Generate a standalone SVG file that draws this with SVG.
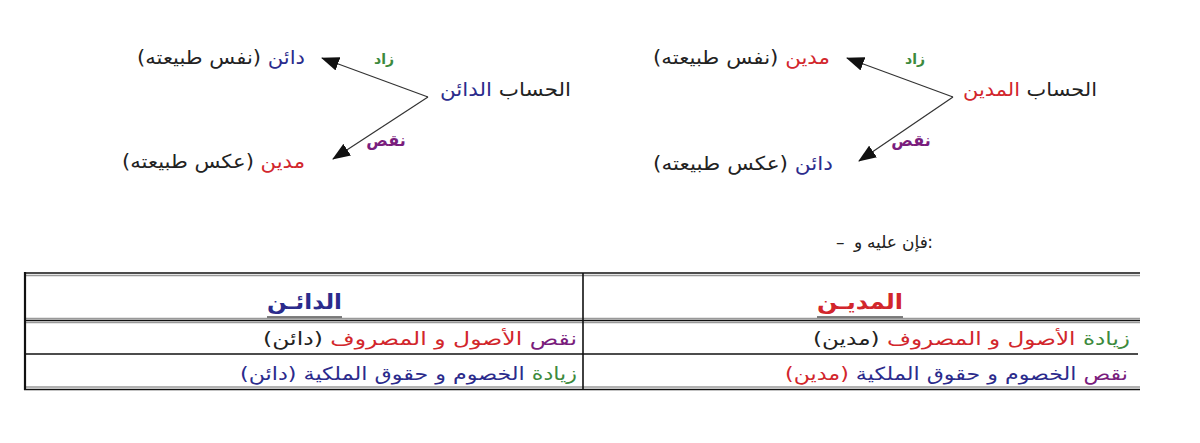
<svg xmlns="http://www.w3.org/2000/svg" width="1200" height="443" viewBox="0 0 1200 443">
<style>
text{font-family:"DejaVu Sans","Noto Sans",sans-serif;fill:#222}
.rtl{direction:rtl;text-anchor:start}
.lbl{font-size:19px}
.intro{font-size:17px}
.small{font-size:14px;font-weight:bold}
.nq{font-size:16px;font-weight:bold}
.red{fill:#d2262c}
.blue{fill:#2b2b8c}
.green{fill:#3d8a3d}
.purple{fill:#7a1d7d}
.hdr{font-size:21px;font-weight:bold}
.row{font-size:18px}
.conn{stroke:#333;stroke-width:1.2;fill:none}
.tl{stroke:#111;stroke-width:1.6}
.tg{stroke:#999;stroke-width:1.6}
</style>
<defs>
<marker id="ah" markerUnits="userSpaceOnUse" markerWidth="18" markerHeight="14" viewBox="0 0 18 14" refX="17" refY="7" orient="auto">
<path d="M0,0 L18,7 L0,14 z" fill="#111"/>
</marker>
</defs>
<rect width="1200" height="443" fill="#fff"/>

<g id="connectors">
<line class="conn" x1="953" y1="97" x2="847" y2="58" marker-end="url(#ah)"/>
<line class="conn" x1="953" y1="97" x2="859" y2="161" marker-end="url(#ah)"/>
<line class="conn" x1="428" y1="97" x2="322" y2="58" marker-end="url(#ah)"/>
<line class="conn" x1="428" y1="97" x2="333" y2="159" marker-end="url(#ah)"/>
</g>

<g id="debit-account">
<text class="rtl lbl" x="1097" y="96" textLength="134" lengthAdjust="spacingAndGlyphs">الحساب <tspan class="red">المدين</tspan></text>
</g>
<g id="debit-increase">
<text class="rtl lbl" x="830" y="64" textLength="177" lengthAdjust="spacingAndGlyphs"><tspan class="red">مدين</tspan> (نفس طبيعته)</text>
</g>
<g id="debit-decrease">
<text class="rtl lbl" x="833" y="170" textLength="180" lengthAdjust="spacingAndGlyphs"><tspan class="blue">دائن</tspan> (عكس طبيعته)</text>
</g>
<g id="debit-labels">
<text class="small green" x="915" y="64" text-anchor="middle">زاد</text>
<text class="nq purple" x="911" y="146" text-anchor="middle">نقص</text>
</g>

<g id="credit-account">
<text class="rtl lbl" x="571" y="96" textLength="131" lengthAdjust="spacingAndGlyphs">الحساب <tspan class="blue">الدائن</tspan></text>
</g>
<g id="credit-increase">
<text class="rtl lbl" x="305" y="64" textLength="168" lengthAdjust="spacingAndGlyphs"><tspan class="blue">دائن</tspan> (نفس طبيعته)</text>
</g>
<g id="credit-decrease">
<text class="rtl lbl" x="305" y="168" textLength="183" lengthAdjust="spacingAndGlyphs"><tspan class="red">مدين</tspan> (عكس طبيعته)</text>
</g>
<g id="credit-labels">
<text class="small green" x="384" y="64" text-anchor="middle">زاد</text>
<text class="nq purple" x="386" y="146" text-anchor="middle">نقص</text>
</g>

<g id="intro">
<text class="intro" x="836" y="248">–</text>
<text class="intro" x="854" y="248">و</text>
<text class="intro" x="897" y="248" text-anchor="end">عليه</text>
<text class="intro" x="902" y="248">فإن</text>
<text class="intro" x="933" y="248" text-anchor="end">:</text>
</g>

<g id="table">
<line class="tl" x1="24" y1="273" x2="1140" y2="273"/>
<line class="tg" x1="24" y1="275.5" x2="1140" y2="275.5"/>
<line class="tg" x1="24" y1="318.5" x2="1140" y2="318.5"/>
<line class="tl" x1="24" y1="320.5" x2="1140" y2="320.5"/>
<line class="tg" x1="24" y1="322.5" x2="1140" y2="322.5"/>
<line class="tl" x1="24" y1="354" x2="1138" y2="354"/>
<line class="tg" x1="24" y1="387" x2="1140" y2="387"/>
<line class="tl" x1="24" y1="389.5" x2="1140" y2="389.5"/>
<line class="tl" x1="25" y1="272" x2="25" y2="390" style="stroke-width:2.2"/>
<line class="tl" x1="583" y1="273" x2="583" y2="389"/>
</g>

<g id="debit-header">
<text class="hdr red" x="860" y="309" text-anchor="middle" textLength="86" lengthAdjust="spacingAndGlyphs">المديـن</text>
<line x1="817" y1="317" x2="903" y2="317" stroke="#555" stroke-width="1.5"/>
</g>
<g id="credit-header">
<text class="hdr blue" x="304.5" y="309" text-anchor="middle" textLength="75" lengthAdjust="spacingAndGlyphs">الدائـن</text>
<line x1="267" y1="317" x2="342" y2="317" stroke="#555" stroke-width="1.5"/>
</g>
<g id="debit-row1">
<text class="rtl row" x="1130" y="345" textLength="317" lengthAdjust="spacingAndGlyphs"><tspan class="green">زيادة</tspan> <tspan class="red">الأصول و المصروف</tspan> (مدين)</text>
</g>
<g id="debit-row2">
<text class="rtl row" x="1128" y="380" textLength="343" lengthAdjust="spacingAndGlyphs"><tspan class="purple">نقص</tspan> <tspan class="blue">الخصوم و حقوق الملكية</tspan> <tspan class="red">(مدين)</tspan></text>
</g>
<g id="credit-row1">
<text class="rtl row" x="577" y="345" textLength="314" lengthAdjust="spacingAndGlyphs"><tspan class="purple">نقص</tspan> <tspan class="red">الأصول و المصروف</tspan> (دائن)</text>
</g>
<g id="credit-row2">
<text class="rtl row" x="577" y="380" textLength="337" lengthAdjust="spacingAndGlyphs"><tspan class="green">زيادة</tspan> <tspan class="blue">الخصوم و حقوق الملكية</tspan> <tspan class="blue">(دائن)</tspan></text>
</g>
</svg>
